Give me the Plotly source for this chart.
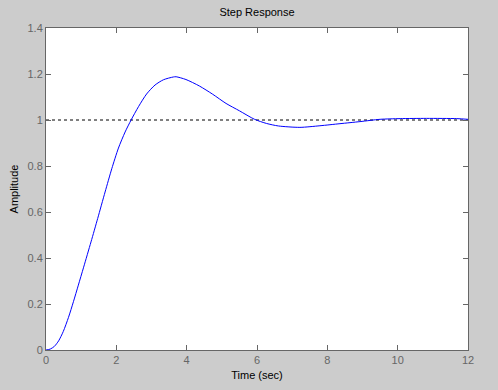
import plotly.graph_objects as go

time_s = [0, 0.12, 0.24, 0.36, 0.49, 0.64, 0.78, 0.92, 1.07, 1.28, 1.47, 1.68, 1.87, 2.06,
          2.25, 2.42, 2.63, 2.86, 3.10, 3.34, 3.62, 3.70, 3.98, 4.36, 4.74, 5.12, 5.50,
          5.93, 6.27, 6.61, 7.22, 7.79, 8.36, 8.93, 9.50, 10.07, 10.82, 11.68, 12.0]
amplitude = [0, 0.004, 0.016, 0.04, 0.08, 0.142, 0.21, 0.282, 0.36, 0.47, 0.572, 0.687,
             0.788, 0.878, 0.948, 1.0, 1.058, 1.113, 1.152, 1.175, 1.187, 1.188, 1.176,
             1.148, 1.112, 1.072, 1.04, 1.003, 0.985, 0.974, 0.968, 0.975, 0.984, 0.993,
             1.003, 1.006, 1.007, 1.006, 1.003]
final_x = [0, 12]
final_y = [1, 1]
x_ticks = [0, 2, 4, 6, 8, 10, 12]
y_ticks = [0, 0.2, 0.4, 0.6, 0.8, 1, 1.2, 1.4]
y_tick_labels = ["0", "0.2", "0.4", "0.6", "0.8", "1", "1.2", "1.4"]

FONT = "Liberation Sans, Arial"

fig = go.Figure()
fig.add_trace(go.Scatter(x=final_x, y=final_y, mode="lines",
                         line=dict(color="black", width=1, dash="3px,3px"),
                         hoverinfo="skip"))
fig.add_trace(go.Scatter(x=time_s, y=amplitude, mode="lines",
                         line=dict(color="#0000ff", width=1, shape="spline", smoothing=0.7)))

axis_common = dict(showgrid=False, zeroline=False, showline=True, linecolor="#666666",
                   linewidth=1, mirror="ticks", ticks="inside", ticklen=5,
                   tickcolor="#666666", automargin=False,
                   tickfont=dict(color="#666666", size=11, family=FONT))

fig.update_xaxes(range=[0, 12], tickvals=x_ticks, **axis_common,
                 title=dict(text="Time (sec)", font=dict(color="black", size=11, family=FONT),
                            standoff=6))
fig.update_yaxes(range=[0, 1.4], tickvals=y_ticks, ticktext=y_tick_labels, **axis_common,
                 title=dict(text="Amplitude", font=dict(color="black", size=11, family=FONT),
                            standoff=6))

fig.update_layout(
    width=498, height=390,
    margin=dict(l=46, r=30, t=28, b=40, autoexpand=False),
    paper_bgcolor="#cccccc", plot_bgcolor="white",
    showlegend=False,
    hovermode=False,
    title=dict(text="Step Response", x=(46 + 468) / 2 / 498, xanchor="center",
               y=1 - 12 / 390, yanchor="middle",
               font=dict(color="black", size=11, family=FONT)),
    font=dict(family=FONT),
)

fig.write_html("out.html", config={"displayModeBar": False},
               post_script="document.body.style.margin='0';")
